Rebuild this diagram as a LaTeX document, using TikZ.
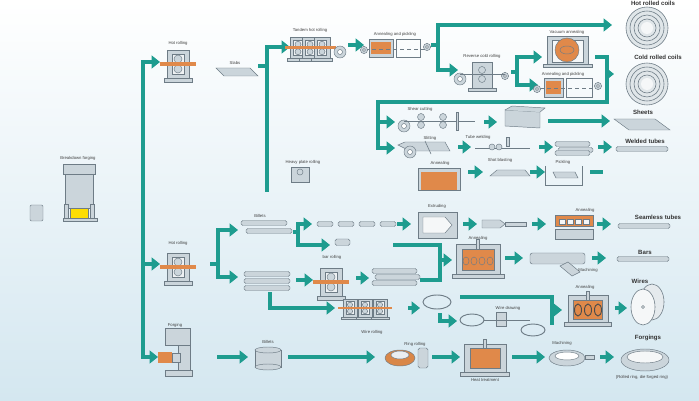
\documentclass[tikz,border=0pt]{standalone}
\usepackage{fontspec}
\setmainfont{Liberation Sans}
\usetikzlibrary{arrows.meta,shapes.geometric}
\definecolor{tl}{HTML}{1E9C8F}
\definecolor{org}{HTML}{E0894A}
\definecolor{gf}{HTML}{CBD5DB}
\definecolor{gd}{HTML}{6E7C86}
\definecolor{bgb}{HTML}{D4E7F0}
\begin{document}
\begin{tikzpicture}[x=0.03cm,y=-0.03cm,
 conn/.style={draw=tl,line width=3.9pt,-{Triangle[length=0.25cm,width=0.38cm]}},
 ln/.style={draw=tl,line width=3.9pt},
 lab/.style={font=\fontsize{3.6}{4}\selectfont,text=black!75,inner sep=0.5pt},
 outl/.style={font=\fontsize{5.2}{6}\selectfont\bfseries,text=black!80,inner sep=0.5pt},
 eq/.style={draw=gd,fill=gf,line width=0.4pt},
 pics/stand/.style={code={
   \draw[eq] (-11,-14) rectangle (11,14);
   \draw[draw=gd,fill=white!70!gf,line width=0.4pt] (-6,-10) rectangle (6,10);
   \draw[eq] (0,-5) circle (4); \draw[eq] (0,5) circle (4);
   \fill[org] (-18,-2) rectangle (18,2);
   \draw[eq] (-14,14) rectangle (14,18);}},
 pics/furnace/.style={code={
   \draw[eq] (-22,-15) rectangle (22,15);
   \draw[draw=gd,fill=org,line width=0.4pt] (-16,-10) rectangle (16,11);
   \draw[eq] (-1.5,-20) rectangle (1.5,-10);
   \draw[eq] (-26,15) rectangle (26,19);}},
 pics/coil/.style={code={
   \draw[eq] (0,0) circle (6); \draw[draw=gd,fill=white] (0,0) circle (2.5);}},
 pics/bigcoil/.style={code={
   \foreach \r in {21,17,13,9} {\draw[draw=gd,fill=gf!60!white,line width=0.5pt] (0,0) circle (\r);}
   \fill[white!80!gf] (0,0) circle (6);}},
 pics/rod/.style={code={
   \draw[eq,rounded corners=1.5pt] (0,-2.5) rectangle (#1,2.5);}},
]
\fill[top color=white,bottom color=bgb] (0,0) rectangle (699,401);
\useasboundingbox (0,0) rectangle (699,401);

% ---------- Breakdown forging
\node[lab] (bf) at (78,158) {Breakdown forging};
\draw[eq] (63,164) rectangle (95,174);
\draw[eq] (65,174) rectangle (93,208);
\draw[draw=gd,fill=yellow!80!orange,line width=0.4pt] (70,208) rectangle (88,218);
\draw[eq] (63,218) rectangle (97,221);
\draw[eq] (64,204) rectangle (68,218); \draw[eq] (90,204) rectangle (94,218);
\draw[eq,rounded corners=1pt] (30,205) rectangle (43,221);

% ---------- main trunk
\draw[conn] (143,357) |- (160,62);
\draw[conn] (141,264) -- (160,264);
\draw[conn] (141,357) -- (158,357);

% hot rolling 1
\node[lab] (hr1) at (178,43) {Hot rolling};
\pic at (178,64) {stand};
% slabs
\node[lab] (sl) at (235,63) {Slabs};
\draw[eq] (216,68) -- (250,68) -- (258,76) -- (224,76) -- cycle;
% trunk 2
\draw[ln] (258,66) -- (268,66);
\draw[conn] (267,192) |- (290,47);
% tandem
\node[lab] (th) at (310,30) {Tandem hot rolling};
\pic[scale=0.75] at (298,48) {stand};
\pic[scale=0.75] at (310,48) {stand};
\pic[scale=0.75] at (322,48) {stand};
\pic at (340,52) {coil};
\draw[conn] (348,45) -- (364,45);
% annealing and pickling 1
\node[lab] (ap1) at (395,34) {Annealing and pickling};
\draw[eq] (369,39) rectangle (393,57);
\fill[org] (371,42) rectangle (391,54);
\draw[gd,line width=0.5pt] (396,39) rectangle (420,57);
\draw[gd,dashed,line width=0.4pt] (365,49) -- (426,49);
\pic[scale=0.6] at (364,50) {coil};
\pic[scale=0.6] at (427,47) {coil};
% trunk 3
\draw[ln] (431,45) -- (440,45);
\draw[conn] (438,72) |- (612,25);
\draw[conn] (438,45) |- (458,70);
\node[outl] (hrc) at (653,3) {Hot rolled coils};
\pic at (647,28) {bigcoil};
% reverse cold rolling
\node[lab] (rcr) at (482,56) {Reverse cold rolling};
\draw[eq] (472,62) rectangle (492,88);
\draw[eq] (482,70) circle (3.5); \draw[eq] (482,79) circle (3.5);
\draw[eq] (468,88) rectangle (496,91);
\pic at (460,79) {coil};
\pic[scale=0.6] at (505,76) {coil};
\draw[gd,line width=0.4pt] (460,74) -- (505,74);
% trunk 4
\draw[ln] (511,72) -- (519,72);
\draw[conn] (517,84) |- (542,57);
\draw[conn] (517,70) |- (538,85);
% vacuum annealing
\node[lab] (va) at (567,32) {Vacuum annealing};
\draw[eq] (547,36) rectangle (588,66);
\draw[fill=white!80!gf,draw=gd,line width=0.4pt] (552,40) rectangle (583,62);
\draw[draw=gd,fill=org,line width=0.4pt] (567,50) circle (12);
\draw[draw=gd,line width=0.4pt] (567,50) ellipse (7 and 4);
\draw[eq] (543,64) rectangle (592,67);
% annealing and pickling 2
\node[lab] (ap2) at (563,74) {Annealing and pickling};
\draw[eq] (544,78) rectangle (563,97);
\fill[org] (546,81) rectangle (561,94);
\draw[gd,line width=0.5pt] (566,78) rectangle (592,97);
\draw[gd,dashed,line width=0.4pt] (540,88) -- (598,88);
\pic[scale=0.6] at (537,89) {coil};
\pic[scale=0.6] at (598,86) {coil};
% cold rolled coils
\draw[ln] (595,57) -- (607,57) -- (607,102) -- (378,102) -- (378,148);
\draw[conn] (605,74) -- (614,74);
\node[outl] (crc) at (658,57) {Cold rolled coils};
\pic at (647,84) {bigcoil};
\draw[conn] (376,148) -- (395,148);
\draw[conn] (376,122) -- (395,122);
% shear cutting
\node[lab] (sc) at (420,109) {Shear cutting};
\pic at (404,126) {coil};
\draw[eq] (421,117) circle (3.5); \draw[eq] (421,125) circle (3.5);
\draw[eq] (443,117) circle (3.5); \draw[eq] (443,125) circle (3.5);
\draw[gd,line width=0.4pt] (404,121) -- (475,121);
\draw[eq] (456,112) rectangle (458,130);
\draw[conn] (484,122) -- (497,122);
\draw[eq] (505,110) -- (540,112) -- (540,128) -- (505,126) -- cycle;
\draw[eq] (505,110) -- (512,106) -- (545,108) -- (540,112);
\draw[conn] (548,121) -- (610,121);
\node[outl] (sh) at (643,112) {Sheets};
\draw[eq] (614,119) -- (655,119) -- (670,130) -- (629,130) -- cycle;
% slitting
\node[lab] (slit) at (430,138) {Slitting};
\draw[eq] (398,145) -- (405,142) -- (445,142) -- (450,151) -- (410,151) -- cycle;
\pic at (410,152) {coil};
\draw[gd,line width=0.5pt] (425,141) -- (431,154);
\draw[conn] (458,147) -- (471,147);
\node[lab] (tw) at (478,137) {Tube welding};
\draw[gd,line width=0.5pt] (475,148) -- (530,148);
\draw[eq] (492,147) circle (3); \draw[eq] (499,147) circle (3);
\draw[eq] (506,137) rectangle (509,146);
\draw[conn] (539,147) -- (553,147);
\pic at (555,144) {rod=35};
\pic at (558,150) {rod=35};
\pic at (555,153) {rod=35};
\draw[conn] (598,147) -- (612,147);
\node[outl] (wt) at (645,141) {Welded tubes};
\pic at (616,149) {rod=52};
% heavy plate row
\node[lab] (hp) at (303,162) {Heavy plate rolling};
\draw[eq] (291,167) rectangle (309,182);
\draw[eq] (300,172) circle (3);
\node[lab] (an1) at (440,163) {Annealing};
\draw[eq] (418,168) rectangle (460,190);
\fill[org] (421,172) rectangle (457,190);
\draw[conn] (468,172) -- (483,172);
\node[lab] (sb) at (500,160) {Shot blasting};
\draw[eq] (490,176) -- (497,170) -- (525,170) -- (530,176) -- cycle;
\draw[conn] (530,172) -- (545,172);
\node[lab] (pk) at (563,162) {Pickling};
\draw[gd,line width=0.5pt] (545,166) -- (545,185) -- (582,185) -- (582,166);
\draw[eq] (553,172) -- (575,172) -- (578,178) -- (556,178) -- cycle;
\draw[ln] (590,172) -- (603,172);

% ---------- hot rolling 2
\node[lab] (hr2) at (178,243) {Hot rolling};
\pic at (178,267) {stand};
\draw[conn] (218,276) |- (238,230);
\draw[ln] (210,264) -- (220,264);
\draw[conn] (218,262) |- (238,277);
% billets
\node[lab] (bl) at (260,216) {Billets};
\pic at (241,223) {rod=46};
\pic at (246,231) {rod=46};
\draw[ln] (293,232) -- (300,232);
\draw[conn] (298,243) |- (312,224);
\draw[conn] (298,232) |- (330,245);
\foreach \x in {317,338,359,380} {\pic at (\x,224) {rod=16};}
\draw[eq,rounded corners=1.5pt] (335,239) rectangle (350,245.5);
\draw[conn] (397,224) -- (411,224);
% extruding
\node[lab] (ex) at (437,206) {Extruding};
\draw[eq] (418,212) rectangle (457,238);
\draw[fill=white!80!gf,draw=gd,line width=0.4pt] (423,217) -- (445,217) -- (452,225) -- (445,233) -- (423,233) -- cycle;
\draw[conn] (463,224) -- (477,224);
\draw[eq] (482,220) -- (500,220) -- (505,224) -- (500,228) -- (482,228) -- cycle;
\draw[eq] (505,222) rectangle (526,226);
\draw[conn] (532,224) -- (546,224);
\node[lab] (an2) at (585,210) {Annealing};
\draw[draw=gd,fill=org,line width=0.4pt] (555,215) rectangle (593,226);
\draw[eq] (555,229) rectangle (593,239);
\foreach \x in {562,570,578,586} {\draw[draw=gd,fill=white!80!gf,line width=0.3pt] (\x-3,219) rectangle (\x+3,224);}
\draw[conn] (597,224) -- (611,224);
\node[outl] (st) at (658,217) {Seamless tubes};
\pic at (618,226) {rod=52};
% bars
\draw[ln] (393,245) -- (440,245) -- (440,280);
\draw[conn] (440,260) -- (452,260);
\node[lab] (an3) at (478,238) {Annealing};
\pic at (478,259) {furnace};
\foreach \x in {466,474,482,490} {\draw[draw=gd,line width=0.4pt] (\x,261) ellipse (3 and 4);}
\draw[conn] (505,258) -- (523,258);
\draw[eq,rounded corners=2pt] (530,253) rectangle (585,264);
\draw[eq] (560,266) -- (568,262) -- (580,272) -- (572,276) -- cycle;
\node[lab] (mc1) at (588,270) {Machining};
\draw[conn] (592,258) -- (606,258);
\node[outl] (br) at (645,252) {Bars};
\pic at (617,259) {rod=52};
% second bundle and bar rolling
\pic at (244,274) {rod=46};
\pic at (244,281) {rod=46};
\pic at (244,288) {rod=46};
\draw[conn] (296,280) -- (313,280);
\node[lab] (brl) at (332,257) {bar rolling};
\pic at (331,282) {stand};
\draw[conn] (356,278) -- (369,278);
\pic at (372,271) {rod=45};
\pic at (375,277) {rod=45};
\pic at (372,283) {rod=45};
\draw[ln] (420,280) -- (442,280);
% wire rolling
\draw[conn] (270,292) |- (335,308);
\foreach \x in {350,365,380} {\pic[scale=0.65] at (\x,308) {stand};}
\node[lab] (wr) at (372,332) {Wire rolling};
\draw[conn] (408,308) -- (420,308);
\draw[gd,line width=0.8pt] (437,302) ellipse (14 and 7);
\draw[conn] (440,313) |- (457,321);
\draw[ln] (460,297) -- (552,297) -- (552,325);
\draw[conn] (550,310) -- (562,310);
\draw[gd,line width=0.8pt] (472,320) ellipse (12 and 6);
\node[lab] (wd) at (508,308) {Wire drawing};
\draw[eq] (496,312) rectangle (506,326);
\draw[gd,line width=0.4pt] (484,320) -- (530,320);
\draw[gd,line width=0.8pt] (533,330) ellipse (12 and 6);
\node[lab] (an4) at (585,287) {Annealing};
\pic[scale=0.9] at (588,309) {furnace};
\foreach \x in {578,588,598} {\draw[draw=black!70,line width=0.8pt] (\x,310) ellipse (3.5 and 6);}
\draw[conn] (615,308) -- (627,308);
\node[outl] (wi) at (640,281) {Wires};
\draw[draw=gd,fill=gf!50!white,line width=0.5pt] (652,302) ellipse (12 and 18);
\draw[draw=gd,fill=white!80!gf,line width=0.5pt] (643,307) ellipse (12 and 18);
\draw[gd] (643,307) circle (1.5);

% ---------- forging
\node[lab] (fg) at (175,325) {Forging};
\draw[eq] (165,328) rectangle (190,345);
\draw[eq] (178,345) rectangle (190,375);
\draw[eq] (165,370) rectangle (192,376);
\fill[org] (158,352) rectangle (172,363);
\draw[eq] (172,353) rectangle (180,362);
\draw[conn] (217,357) -- (248,357);
\node[lab] (bl2) at (268,342) {Billets};
\draw[eq] (255,350) rectangle (281,367);
\draw[eq] (268,367) ellipse (13 and 3);
\draw[eq] (268,350) ellipse (13 and 3);
\draw[conn] (288,357) -- (375,357);
\node[lab] (rr) at (415,344) {Ring rolling};
\draw[draw=gd,fill=org!80!brown,line width=0.4pt] (400,358) ellipse (15 and 8);
\draw[draw=gd,fill=gf!40!white,line width=0.4pt] (400,355) ellipse (9 and 4);
\draw[eq,rounded corners=1.5pt] (418,348) rectangle (428,368);
\draw[conn] (432,357) -- (460,357);
\node[lab] (ht) at (485,380) {Heat treatment};
\pic[scale=0.95] at (485,358) {furnace};
\draw[conn] (512,357) -- (545,357);
\node[lab] (mc2) at (562,343) {Machining};
\draw[eq] (567,358) ellipse (18 and 8);
\draw[draw=gd,fill=white,line width=0.4pt] (567,356) ellipse (12 and 4);
\draw[eq] (585,355) rectangle (594,359);
\draw[conn] (600,357) -- (614,357);
\node[outl] (fo) at (648,338) {Forgings};
\draw[eq] (645,360) ellipse (24 and 11);
\draw[draw=gd,fill=white!80!gf,line width=0.4pt] (645,357) ellipse (18 and 6);
\node[lab] (fo2) at (642,377) {(Rolled ring, die forged ring)};
\end{tikzpicture}
\end{document}
